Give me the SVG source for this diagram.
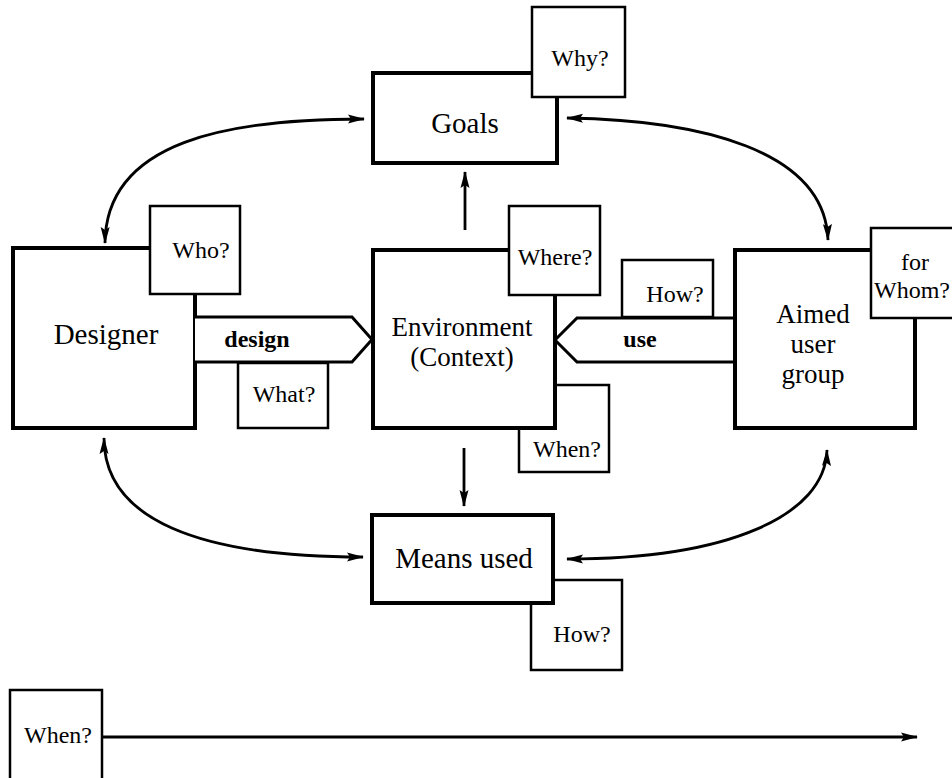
<svg xmlns="http://www.w3.org/2000/svg" width="952" height="778" viewBox="0 0 952 778">
  <style>
    .main { fill: #fff; stroke: #000; stroke-width: 4; }
    .q { fill: #fff; stroke: #000; stroke-width: 2.5; }
    .flow { fill: #fff; stroke: #000; stroke-width: 3; stroke-linejoin: miter; }
    .lbl { font-family: "Liberation Serif", "Times New Roman", serif; font-size: 29px; fill: #000; text-anchor: middle; }
    .ml { font-size: 27px; }
    .qt { font-family: "Liberation Serif", "Times New Roman", serif; font-size: 24px; fill: #000; text-anchor: middle; }
    .bt { font-family: "Liberation Serif", "Times New Roman", serif; font-size: 24px; font-weight: bold; fill: #000; text-anchor: middle; }
    .link { fill: none; stroke: #000; stroke-width: 2.8; }
  </style>
  <defs>
    <marker id="ah" viewBox="0 0 17 10" refX="16" refY="5" markerWidth="17" markerHeight="10" orient="auto-start-reverse" markerUnits="userSpaceOnUse">
      <path d="M0,0.5 L17,5 L0,9.5 L3,5 z" fill="#000"/>
    </marker>
  </defs>

  <!-- Goals -->
  <g id="goals">
    <rect class="main" x="373" y="73" width="184" height="90"/>
    <text class="lbl" x="465" y="133">Goals</text>
  </g>
  <g id="why">
    <rect class="q" x="532" y="7" width="93" height="90"/>
    <text class="qt" x="580" y="66">Why?</text>
  </g>

  <!-- Designer -->
  <g id="designer">
    <rect class="main" x="13" y="248" width="182" height="180"/>
    <text class="lbl" x="106" y="344">Designer</text>
  </g>
  <g id="who">
    <rect class="q" x="150" y="206" width="90" height="88"/>
    <text class="qt" x="201" y="258">Who?</text>
  </g>
  <g id="design">
    <path class="flow" d="M195,317 L352,317 L372,339.5 L352,362 L195,362"/>
    <text class="bt" x="257" y="347">design</text>
  </g>
  <g id="what">
    <rect class="q" x="238" y="363" width="90" height="65"/>
    <text class="qt" x="284" y="402">What?</text>
  </g>

  <!-- Environment -->
  <g id="when-env">
    <rect class="q" x="519" y="385" width="90" height="87"/>
    <text class="qt" x="567" y="457">When?</text>
  </g>
  <g id="environment">
    <rect class="main" x="373" y="250" width="182" height="178"/>
    <text class="lbl ml" x="462" y="336">Environment</text>
    <text class="lbl ml" x="462" y="366">(Context)</text>
  </g>
  <g id="where">
    <rect class="q" x="509" y="206" width="91" height="89"/>
    <text class="qt" x="555" y="265">Where?</text>
  </g>

  <!-- Aimed user group -->
  <g id="use">
    <path class="flow" d="M733,318 L577,318 L555,340 L577,362 L733,362"/>
    <text class="bt" x="640" y="347">use</text>
  </g>
  <g id="how-use">
    <rect class="q" x="622" y="260" width="91" height="57"/>
    <text class="qt" x="675" y="302">How?</text>
  </g>
  <g id="aimed">
    <rect class="main" x="735" y="250" width="180" height="178"/>
    <text class="lbl ml" x="813" y="323">Aimed</text>
    <text class="lbl ml" x="813" y="353">user</text>
    <text class="lbl ml" x="813" y="383">group</text>
  </g>
  <g id="for-whom">
    <rect class="q" x="871" y="228" width="90" height="90"/>
    <text class="qt" x="915" y="270">for</text>
    <text class="qt" x="912" y="298">Whom?</text>
  </g>

  <!-- Means used -->
  <g id="how-means">
    <rect class="q" x="531" y="580" width="91" height="90"/>
    <text class="qt" x="582" y="642">How?</text>
  </g>
  <g id="means">
    <rect class="main" x="372" y="515" width="181" height="88"/>
    <text class="lbl" x="464" y="568">Means used</text>
  </g>

  <!-- Time axis -->
  <g id="when-time">
    <rect class="q" x="10" y="690" width="92" height="92"/>
    <text class="qt" x="58" y="743">When?</text>
  </g>

  <!-- Connectors -->
  <g id="connectors">
    <path class="link" d="M465,230 L465,172" marker-end="url(#ah)"/>
    <path class="link" d="M464,448 L464,506" marker-end="url(#ah)"/>
    <path class="link" d="M105,243 C106,140 230,119 364,119" marker-start="url(#ah)" marker-end="url(#ah)"/>
    <path class="link" d="M567,118 C700,120 825,150 828,240" marker-start="url(#ah)" marker-end="url(#ah)"/>
    <path class="link" d="M104,438 C104,520 200,557 363,557" marker-start="url(#ah)" marker-end="url(#ah)"/>
    <path class="link" d="M827,450 C825,515 730,559 567,559" marker-start="url(#ah)" marker-end="url(#ah)"/>
    <path class="link" stroke-width="2.2" d="M102,737 L917,737" marker-end="url(#ah)"/>
  </g>
</svg>
